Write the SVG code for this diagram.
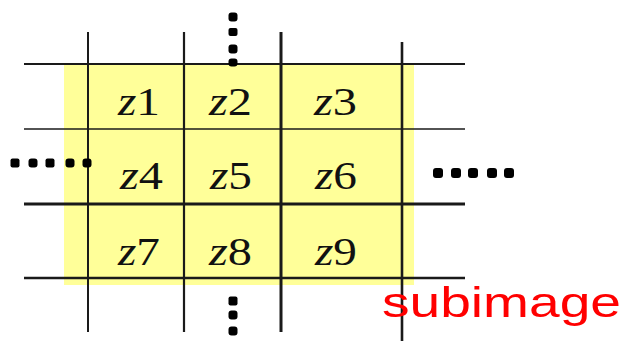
<svg xmlns="http://www.w3.org/2000/svg" width="626" height="341" viewBox="0 0 626 341">
<style>
.z{font-family:"Liberation Serif",serif;font-size:40px;fill:#111}
.z .i{font-style:italic}
.ln{stroke:#1a1a1a;fill:none}
.dot{fill:#000}
.red{font-family:"Liberation Sans",Arial,sans-serif;font-size:42px;fill:#ff0000}
</style>
<rect width="626" height="341" fill="#fff"/>
<rect id="subimage-area" x="64" y="64" width="350" height="221" fill="#ffff99"/>
<g id="grid">
<line class="ln" x1="24" y1="64" x2="465" y2="64" stroke-width="2.2"/>
<line class="ln" x1="24" y1="129" x2="465" y2="129" stroke-width="1.6" stroke="#555"/>
<line class="ln" x1="24" y1="204" x2="465" y2="204" stroke-width="3.2"/>
<line class="ln" x1="24" y1="278" x2="465" y2="278" stroke-width="2.4"/>
<line class="ln" x1="88" y1="32" x2="88" y2="332" stroke-width="2" stroke="#333"/>
<line class="ln" x1="184" y1="32" x2="184" y2="332" stroke-width="2.2" stroke="#333"/>
<line class="ln" x1="281" y1="32" x2="281" y2="332" stroke-width="3"/>
<line class="ln" x1="402" y1="42" x2="402" y2="341" stroke-width="2.6"/>
</g>
<g id="dots">
<g id="dots-top">
<rect class="dot" x="228.5" y="12.5" width="9" height="9" rx="3"/>
<rect class="dot" x="228.5" y="28" width="9" height="8" rx="2"/>
<rect class="dot" x="228.5" y="44.5" width="9" height="9" rx="3"/>
<rect class="dot" x="228.5" y="58.5" width="9" height="8" rx="3"/>
</g>
<g id="dots-left">
<rect class="dot" x="10.5" y="158.5" width="9" height="9" rx="2"/>
<rect class="dot" x="28.5" y="158.5" width="9" height="9" rx="3"/>
<rect class="dot" x="45.5" y="158.5" width="9" height="9" rx="2"/>
<rect class="dot" x="65.5" y="158.5" width="9" height="9" rx="3"/>
<rect class="dot" x="82.5" y="158.5" width="9" height="9" rx="3"/>
</g>
<g id="dots-right">
<rect class="dot" x="433" y="168" width="10" height="10" rx="3"/>
<rect class="dot" x="451" y="168" width="10" height="10" rx="3"/>
<rect class="dot" x="468" y="168" width="10" height="10" rx="3"/>
<rect class="dot" x="487" y="168" width="10" height="10" rx="3"/>
<rect class="dot" x="504" y="168" width="10" height="10" rx="3"/>
</g>
<g id="dots-bottom">
<rect class="dot" x="228.5" y="296.5" width="9" height="9" rx="2"/>
<rect class="dot" x="228.5" y="310.5" width="9" height="9" rx="3"/>
<rect class="dot" x="228.5" y="326.5" width="9" height="9" rx="3"/>
</g>
</g>
<g id="z1"><text class="z" x="118" y="115" textLength="42" lengthAdjust="spacingAndGlyphs"><tspan class="i">z</tspan>1</text></g>
<g id="z2"><text class="z" x="209" y="115" textLength="43" lengthAdjust="spacingAndGlyphs"><tspan class="i">z</tspan>2</text></g>
<g id="z3"><text class="z" x="314" y="115" textLength="43" lengthAdjust="spacingAndGlyphs"><tspan class="i">z</tspan>3</text></g>
<g id="z4"><text class="z" x="120" y="189" textLength="43" lengthAdjust="spacingAndGlyphs"><tspan class="i">z</tspan>4</text></g>
<g id="z5"><text class="z" x="210" y="189" textLength="42" lengthAdjust="spacingAndGlyphs"><tspan class="i">z</tspan>5</text></g>
<g id="z6"><text class="z" x="315" y="189" textLength="42" lengthAdjust="spacingAndGlyphs"><tspan class="i">z</tspan>6</text></g>
<g id="z7"><text class="z" x="118" y="265" textLength="42" lengthAdjust="spacingAndGlyphs"><tspan class="i">z</tspan>7</text></g>
<g id="z8"><text class="z" x="209" y="265" textLength="43" lengthAdjust="spacingAndGlyphs"><tspan class="i">z</tspan>8</text></g>
<g id="z9"><text class="z" x="315" y="265" textLength="42" lengthAdjust="spacingAndGlyphs"><tspan class="i">z</tspan>9</text></g>
<g id="label"><text class="red" x="382" y="317" textLength="239" lengthAdjust="spacingAndGlyphs">subimage</text></g>
</svg>
